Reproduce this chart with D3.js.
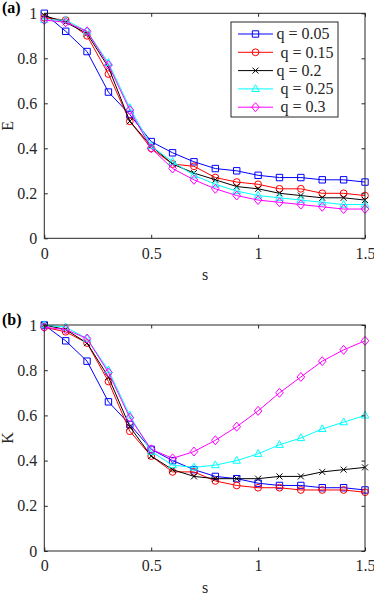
<!DOCTYPE html>
<html>
<head>
<meta charset="utf-8">
<script src="https://cdn.jsdelivr.net/npm/d3@7"></script>
<style>
  html, body { margin: 0; padding: 0; background: #fff; }
  svg { display: block; }
</style>
</head>
<body>
<svg id="chart" width="374" height="595"></svg>
<script>
// ---- Data ----
const sValues = [0, 0.1, 0.2, 0.3, 0.4, 0.5, 0.6, 0.7, 0.8, 0.9, 1.0, 1.1, 1.2, 1.3, 1.4, 1.5];
const seriesLabels = ["q = 0.05", " q = 0.15", "q = 0.2", " q = 0.25", " q = 0.3"];
const seriesColors = ["#0000ff", "#ff0000", "#000000", "#00ffff", "#ff00ff"];
const seriesMarkers = ["square", "circle", "cross", "triangle", "diamond"];

// Panel (a): E
const E_q005 = [1.00, 0.92, 0.83, 0.65, 0.55, 0.43, 0.38, 0.34, 0.31, 0.30, 0.28, 0.27, 0.27, 0.26, 0.26, 0.25];
const E_q015 = [0.98, 0.97, 0.90, 0.73, 0.52, 0.40, 0.33, 0.32, 0.27, 0.25, 0.24, 0.22, 0.22, 0.20, 0.20, 0.19];
const E_q020 = [0.99, 0.96, 0.91, 0.76, 0.52, 0.41, 0.33, 0.29, 0.26, 0.23, 0.22, 0.20, 0.19, 0.18, 0.18, 0.17];
const E_q025 = [0.97, 0.97, 0.92, 0.78, 0.58, 0.41, 0.34, 0.28, 0.24, 0.21, 0.19, 0.18, 0.17, 0.16, 0.15, 0.15];
const E_q030 = [0.97, 0.96, 0.92, 0.77, 0.57, 0.40, 0.31, 0.26, 0.22, 0.19, 0.17, 0.16, 0.15, 0.14, 0.13, 0.13];

// Panel (b): K
const K_q005 = [1.00, 0.93, 0.84, 0.66, 0.56, 0.45, 0.40, 0.36, 0.33, 0.32, 0.30, 0.29, 0.29, 0.28, 0.28, 0.27];
const K_q015 = [0.99, 0.97, 0.92, 0.75, 0.53, 0.42, 0.35, 0.35, 0.31, 0.29, 0.28, 0.28, 0.27, 0.27, 0.27, 0.26];
const K_q020 = [1.00, 0.98, 0.92, 0.77, 0.55, 0.42, 0.36, 0.33, 0.32, 0.32, 0.32, 0.33, 0.33, 0.35, 0.36, 0.37];
const K_q025 = [1.00, 0.99, 0.94, 0.80, 0.60, 0.44, 0.38, 0.37, 0.38, 0.40, 0.43, 0.47, 0.50, 0.54, 0.57, 0.60];
const K_q030 = [0.99, 0.98, 0.94, 0.79, 0.59, 0.45, 0.41, 0.44, 0.49, 0.55, 0.62, 0.70, 0.77, 0.84, 0.89, 0.93];

const xTicks = [0, 0.5, 1, 1.5];
const xTickLabels = ["0", "0.5", "1", "1.5"];
const yTicks = [0, 0.2, 0.4, 0.6, 0.8, 1];
const yTickLabels = ["0", "0.2", "0.4", "0.6", "0.8", "1"];

const panels = [
  { tag: "(a)", ylabel: "E", series: [E_q005, E_q015, E_q020, E_q025, E_q030], top: 13.3, bottom: 238.3, legend: true },
  { tag: "(b)", ylabel: "K", series: [K_q005, K_q015, K_q020, K_q025, K_q030], top: 325, bottom: 551, legend: false }
];

const FONT = "'Liberation Serif', 'Times New Roman', serif";
const svg = d3.select("#chart");
const axisColor = "#262626";
const left = 44.3, right = 365;
const x = d3.scaleLinear().domain([0, 1.5]).range([left, right]);

function markerPath(type) {
  const s = 3.2;
  switch (type) {
    case "square": return `M${-s},${-s}H${s}V${s}H${-s}Z`;
    case "circle": return `M${-3.4},0A3.4,3.4 0 1,0 3.4,0A3.4,3.4 0 1,0 -3.4,0Z`;
    case "cross": return `M-3,-3L3,3M-3,3L3,-3`;
    case "triangle": return `M0,-4.2L3.8,2.6L-3.8,2.6Z`;
    case "diamond": return `M0,-4.5L3.8,0L0,4.5L-3.8,0Z`;
  }
}

panels.forEach(p => {
  const y = d3.scaleLinear().domain([0, 1]).range([p.bottom, p.top]);
  const g = svg.append("g");

  p.series.forEach((vals, i) => {
    const pts = sValues.map((s, j) => [s, vals[j]]);
    g.append("path")
      .datum(pts)
      .attr("fill", "none")
      .attr("stroke", seriesColors[i])
      .attr("stroke-width", 1)
      .attr("d", d3.line().x(d => x(d[0])).y(d => y(d[1])));
    g.selectAll(null).data(pts).enter().append("path")
      .attr("transform", d => `translate(${x(d[0])},${y(d[1])})`)
      .attr("d", markerPath(seriesMarkers[i]))
      .attr("fill", "none")
      .attr("stroke", seriesColors[i])
      .attr("stroke-width", 1);
  });

  g.append("rect")
    .attr("x", left).attr("y", p.top)
    .attr("width", right - left).attr("height", p.bottom - p.top)
    .attr("fill", "none").attr("stroke", axisColor).attr("stroke-width", 1);

  const xb = d3.axisBottom(x).tickValues(xTicks).tickFormat((d, i) => xTickLabels[i]).tickSizeInner(-3.5).tickSizeOuter(0).tickPadding(9);
  const xt = d3.axisTop(x).tickValues(xTicks).tickFormat("").tickSizeInner(-3.5).tickSizeOuter(0);
  const yl = d3.axisLeft(y).tickValues(yTicks).tickFormat((d, i) => yTickLabels[i]).tickSizeInner(-3.5).tickSizeOuter(0).tickPadding(7);
  const yr = d3.axisRight(y).tickValues(yTicks).tickFormat("").tickSizeInner(-3.5).tickSizeOuter(0);

  [[xb, `translate(0,${p.bottom})`], [xt, `translate(0,${p.top})`], [yl, `translate(${left},0)`], [yr, `translate(${right},0)`]].forEach(([ax, tr]) => {
    const a = g.append("g").attr("transform", tr).call(ax);
    a.attr("font-family", null);
    a.select(".domain").remove();
    a.selectAll("line").attr("stroke", axisColor);
    a.selectAll("text").style("font-family", FONT).style("font-size", "16px").attr("fill", axisColor);
  });

  g.append("text")
    .attr("x", (left + right) / 2 + 0.5).attr("y", p.bottom + 42)
    .attr("text-anchor", "middle").style("font-family", FONT).style("font-size", "16px").attr("fill", axisColor).text("s");
  g.append("text")
    .attr("transform", `translate(12.5,${(p.top + p.bottom) / 2}) rotate(-90)`)
    .attr("text-anchor", "middle").style("font-family", FONT).style("font-size", "16px").attr("fill", axisColor).text(p.ylabel);
  g.append("text")
    .attr("x", 2).attr("y", p.top - 0.5)
    .style("font-family", FONT).style("font-size", "16px").attr("font-weight", "bold").attr("fill", "#000").text(p.tag);

  if (p.legend) {
    const lx = 231, ly = 22, lw = 107, lh = 95;
    const lg = g.append("g");
    lg.append("rect").attr("x", lx).attr("y", ly).attr("width", lw).attr("height", lh)
      .attr("fill", "#fff").attr("stroke", axisColor).attr("stroke-width", 1);
    seriesLabels.forEach((lab, i) => {
      const cy = 34 + i * 18.3;
      lg.append("line").attr("x1", 238).attr("x2", 273).attr("y1", cy).attr("y2", cy)
        .attr("stroke", seriesColors[i]).attr("stroke-width", 1);
      lg.append("path").attr("transform", `translate(255.5,${cy})`)
        .attr("d", markerPath(seriesMarkers[i])).attr("fill", "none")
        .attr("stroke", seriesColors[i]).attr("stroke-width", 1);
      lg.append("text").attr("x", 276.5).attr("y", cy).attr("dy", "0.33em")
        .style("font-family", FONT).style("font-size", "16px").style("white-space", "pre")
        .attr("fill", axisColor).text(lab);
    });
  }
});
</script>
</body>
</html>
